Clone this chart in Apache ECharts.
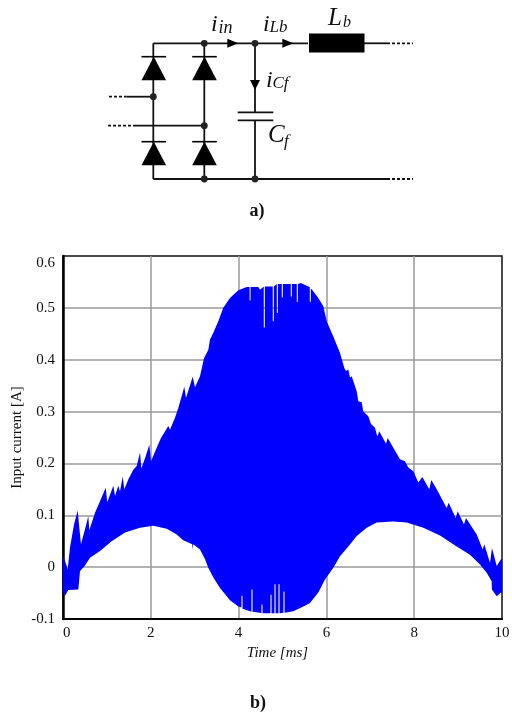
<!DOCTYPE html>
<html>
<head>
<meta charset="utf-8">
<style>html,body{margin:0;padding:0;background:#fff}#c{width:512px;height:713px}</style>
<script src="https://cdn.jsdelivr.net/npm/echarts@6/dist/echarts.min.js"></script>
</head>
<body>
<div id="c"></div>
<script>
const SERIF = '"Liberation Serif", serif';

// Upper envelope of the input current: time [ms], current [A]
const upperTime = [0,.046,.107,.159,.251,.335,.371,.41,.501,.576,.599,.729,.843,.973,1.009,1.146,1.185,1.26,1.298,1.36,1.396,1.487,1.601,1.679,1.754,1.784,1.884,1.966,2.005,2.134,2.232,2.399,2.437,2.551,2.626,2.704,2.763,2.802,2.954,3.007,3.121,3.212,3.31,3.349,3.424,3.538,3.651,3.804,3.993,4.185,
  4.25,4.251,4.272,4.273,4.449,4.487,
  4.573,4.574,4.597,4.598,4.778,4.779,4.802,4.803,4.87,4.871,4.894,4.895,4.983,4.984,5.007,5.008,5.188,5.189,5.212,5.213,5.325,5.326,5.349,5.35,
  5.415,5.588,5.621,5.622,5.645,5.646,5.665,5.815,5.929,6.007,6.157,6.31,6.408,6.446,6.499,6.538,6.576,6.69,6.727,6.804,6.841,6.954,7.016,7.107,7.159,7.205,7.358,7.396,7.524,7.677,7.791,7.866,7.98,8.093,8.185,8.344,8.39,8.513,8.74,8.786,8.945,8.991,9.134,9.18,9.424,9.56,9.597,9.727,9.772,9.879,9.984,10];
const upperCurrent = [.021,.012,-.004,.038,.082,.109,.076,.044,.073,.098,.071,.105,.127,.153,.125,.157,.137,.157,.146,.175,.15,.169,.188,.195,.221,.19,.214,.236,.204,.23,.249,.272,.265,.288,.307,.33,.348,.326,.367,.347,.368,.403,.419,.439,.452,.474,.5,.519,.534,.54,
  .54,.514,.514,.54,.54,.535,
  .541,.462,.462,.541,.541,.474,.474,.541,.546,.49,.49,.546,.546,.52,.52,.546,.546,.522,.522,.546,.546,.512,.512,.546,
  .548,.541,.54,.512,.512,.537,.536,.519,.503,.474,.445,.413,.384,.378,.381,.365,.368,.339,.32,.318,.3,.291,.276,.269,.252,.262,.238,.249,.23,.208,.204,.192,.185,.163,.174,.15,.168,.15,.114,.124,.095,.108,.082,.095,.063,.034,.044,.008,.037,.002,.016,.016];

// Lower envelope of the input current: time [ms], current [A]
const lowerTime = [0,.046,.121,.349,.387,.501,.615,.843,1.109,1.412,1.754,2.057,2.362,2.59,2.74,2.943,2.954,2.966,3.121,3.235,3.31,3.424,3.576,3.804,3.993,
  4.065,4.066,4.089,4.09,4.26,4.293,4.294,4.317,4.318,4.487,4.521,4.522,4.545,4.546,4.726,4.727,4.75,4.751,4.817,4.818,4.841,4.842,4.908,4.909,4.932,4.933,5.022,5.023,5.046,5.047,
  5.246,5.474,5.626,5.815,5.968,6.157,6.31,6.499,6.69,6.918,7.146,7.524,7.829,8.208,8.588,8.968,9.271,9.499,9.651,9.765,9.77,9.879,9.977,10];
const lowerCurrent = [-.049,-.055,-.044,-.043,-.008,.003,.018,.031,.05,.067,.076,.08,.074,.063,.052,.044,.034,.044,.034,.015,-.001,-.02,-.04,-.064,-.076,
  -.078,-.055,-.055,-.08,-.085,-.086,-.043,-.043,-.086,-.088,-.089,-.072,-.072,-.089,-.089,-.053,-.053,-.089,-.089,-.033,-.033,-.089,-.089,-.033,-.033,-.089,-.088,-.047,-.047,-.088,
  -.085,-.076,-.069,-.049,-.024,-.001,.021,.04,.06,.076,.086,.088,.086,.076,.061,.04,.024,.005,-.011,-.027,-.043,-.056,-.049,-.049];

const envelope = upperTime.map((t, i) => [t, upperCurrent[i]])
  .concat(lowerTime.map((t, i) => [t, lowerCurrent[i]]).reverse());

// Circuit schematic a) (decoration, not data)
const wires = [
  [[153.3,43.3],[308,43.3]], [[364,43.3],[387,43.3]], [[153.3,179],[387,179]],
  [[153.3,43.3],[153.3,179]], [[204.3,43.3],[204.3,179]],
  [[255,43.3],[255,112.3]], [[255,120.3],[255,179]],
  [[126.7,96.7],[153.3,96.7]], [[133,125.7],[204.3,125.7]],
  [[237.7,112.3],[273.3,112.3]], [[237.7,120.3],[273.3,120.3]]
];
const dottedWires = [
  [[387,43.3],[413,43.3]], [[387,179],[413,179]],
  [[109,96.7],[126.7,96.7]], [[108,125.7],[133,125.7]]
];
const junctions = [[204.3,43.3],[255,43.3],[204.3,179],[255,179],[153.3,96.7],[204.3,125.7]];
const diodes = [[153.8,56.7],[204.5,56.7],[153.8,141.7],[204.5,141.7]];
const arrowsRight = [[238.3,43.3],[293.3,43.3]];
const circuitText = [
  ['i', 211, 25, 'italic 24px'], ['in', 218.5, 28, 'italic 18px'],
  ['i', 263, 25, 'italic 24px'], ['Lb', 269.5, 28, 'italic 17px'],
  ['L', 328, 18, 'italic 25px'], ['b', 343, 23, 'italic 16px'],
  ['i', 266, 81, 'italic 24px'], ['Cf', 272.5, 84, 'italic 17px'],
  ['C', 268, 135, 'italic 25px'], ['f', 284, 142, 'italic 17px']
];

const graphic = [];
const line = (p, dash) => graphic.push({type:'line', shape:{x1:p[0][0],y1:p[0][1],x2:p[1][0],y2:p[1][1]},
  style:{stroke:'#111', lineWidth:1.8, lineDash:dash||null}});
wires.forEach(p => line(p));
dottedWires.forEach(p => line(p, [3,2]));
graphic.push({type:'rect', shape:{x:309,y:33.5,width:55.5,height:19}, style:{fill:'#000'}});
junctions.forEach(p => graphic.push({type:'circle', shape:{cx:p[0],cy:p[1],r:3.4}, style:{fill:'#222'}}));
diodes.forEach(([x,y]) => {
  graphic.push({type:'polygon', shape:{points:[[x,y],[x+12.3,y+23.5],[x-12.3,y+23.5]]}, style:{fill:'#000'}});
  graphic.push({type:'line', shape:{x1:x-12.3,y1:y,x2:x+12.3,y2:y}, style:{stroke:'#000',lineWidth:1.6}});
});
arrowsRight.forEach(([x,y]) => graphic.push({type:'polygon', shape:{points:[[x,y],[x-11,y-4.5],[x-11,y+4.5]]}, style:{fill:'#000'}}));
graphic.push({type:'polygon', shape:{points:[[255,90],[250,80],[260,80]]}, style:{fill:'#000'}});
circuitText.forEach(([t,x,y,f]) => graphic.push({type:'text', x, y,
  style:{text:t, font:f+' '+SERIF, fill:'#111', verticalAlign:'middle', align:'left'}}));
graphic.push({type:'text', x:257, y:211, style:{text:'a)', font:'bold 18px '+SERIF, fill:'#111', align:'center', verticalAlign:'middle'}});
graphic.push({type:'text', x:258, y:703, style:{text:'b)', font:'bold 18px '+SERIF, fill:'#111', align:'center', verticalAlign:'middle'}});

const chart = echarts.init(document.getElementById('c'), null, {renderer:'canvas'});
chart.setOption({
  animation:false,
  backgroundColor:'#fff',
  graphic,
  grid:{left:63, right:10, top:256, bottom:94, show:true, borderColor:'#111', borderWidth:1.5, backgroundColor:'transparent', containLabel:false, outerBoundsMode:'none'},
  xAxis:{type:'value', min:0, max:10, interval:2,
    name:'Time [ms]', nameLocation:'middle', nameGap:26,
    nameTextStyle:{fontFamily:SERIF, fontStyle:'italic', fontSize:15, color:'#111', padding:[0,10,0,0]},
    axisLine:{show:true, onZero:false, lineStyle:{color:'#000', width:2}},
    axisTick:{show:false},
    axisLabel:{fontFamily:SERIF, fontSize:15, color:'#111', margin:7, alignMinLabel:'left'},
    splitLine:{show:true, showMinLine:false, showMaxLine:false, lineStyle:{color:'#999', width:1.5}}},
  yAxis:{type:'value', min:-0.1, max:0.6, interval:0.1,
    name:'Input current [A]', nameLocation:'middle', nameGap:38, nameRotate:90, nameMoveOverlap:false,
    nameTextStyle:{fontFamily:SERIF, fontSize:15, color:'#111'},
    axisLine:{show:true, onZero:false, lineStyle:{color:'#000', width:2.5}},
    axisTick:{show:false},
    axisLabel:{fontFamily:SERIF, fontSize:15, color:'#111', margin:8, verticalAlignMaxLabel:'top',
      formatter:v => (Math.abs(v) < 1e-9 ? '0' : (+v.toFixed(1)).toString())},
    splitLine:{show:true, showMinLine:false, showMaxLine:false, lineStyle:{color:'#999', width:1.5}}},
  series:[{
    type:'custom', coordinateSystem:'cartesian2d', clip:true, silent:true,
    encode:{x:0, y:1},
    data:envelope,
    renderItem:(params, api) => params.dataIndex === 0 ? {
      type:'polygon',
      shape:{points:envelope.map(d => api.coord(d))},
      style:{fill:'#0000ff'}
    } : null
  }]
});
</script>
</body>
</html>
